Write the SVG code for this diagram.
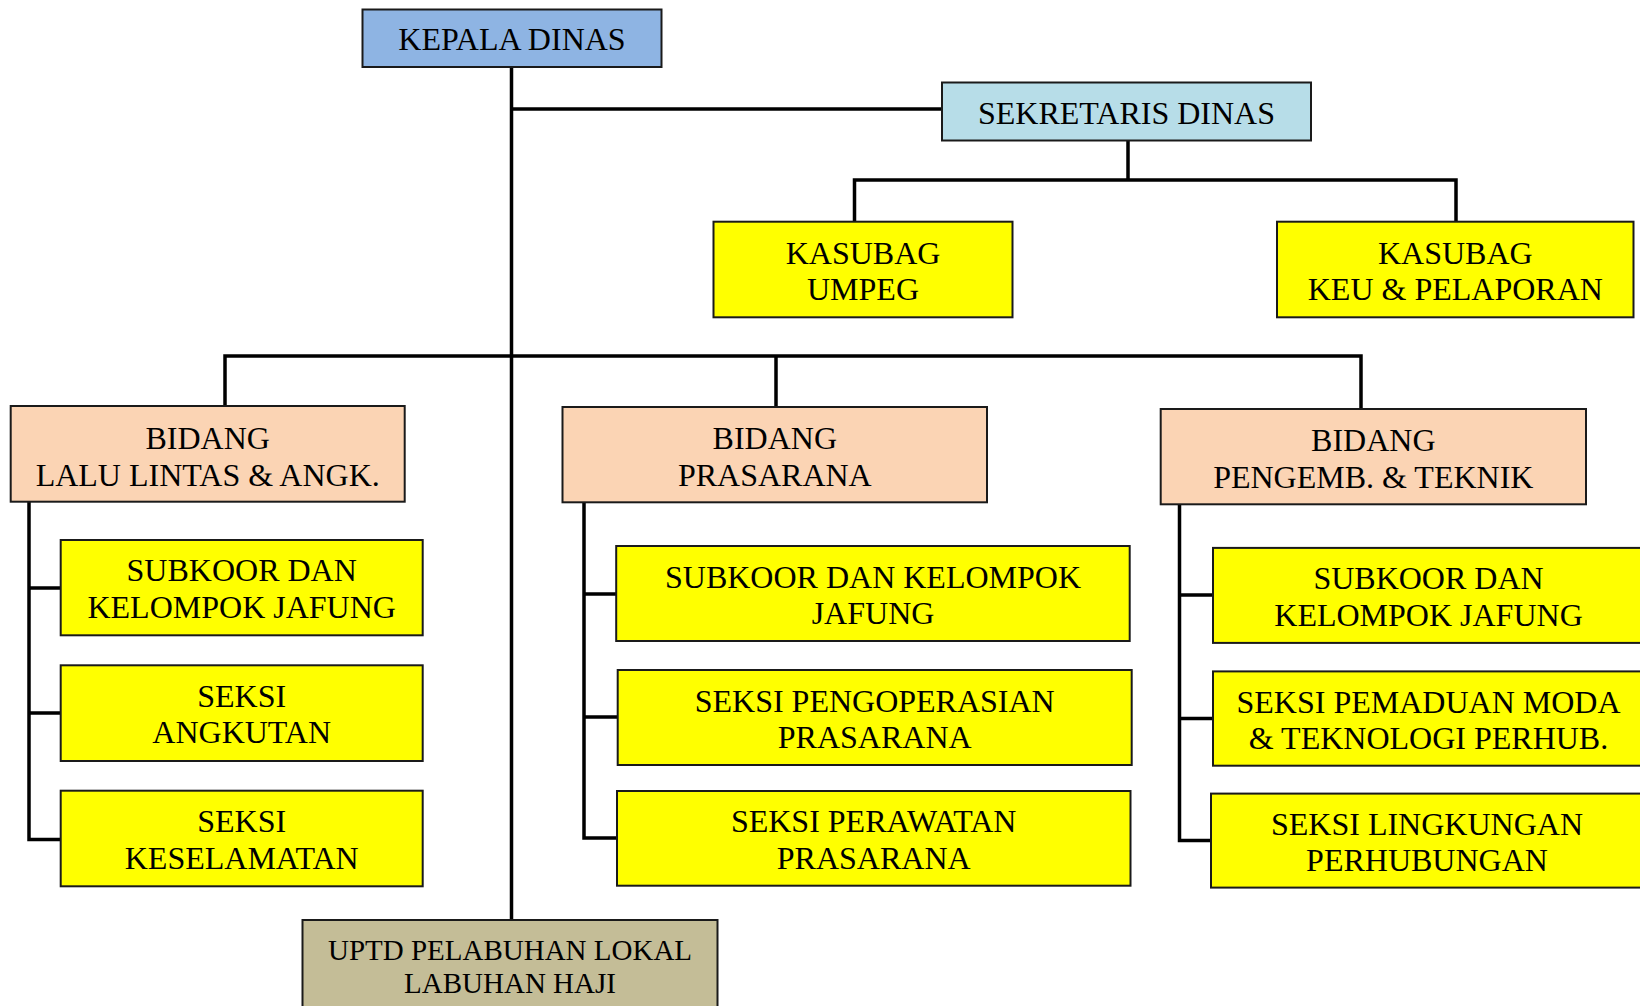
<svg xmlns="http://www.w3.org/2000/svg" width="1640" height="1006" viewBox="0 0 1640 1006">
<style>
  .box{stroke:#1a1a1a;stroke-width:2}
  .blue{fill:#8EB4E3}
  .lblue{fill:#B7DDE8}
  .yel{fill:#FFFF00}
  .peach{fill:#FBD4B4}
  .tan{fill:#C4BD97}
  text{font-family:"Liberation Serif","Times New Roman",serif;font-size:32px;fill:#000;text-anchor:middle}
  .sm{font-size:29px}
  .conn{fill:none;stroke:#000;stroke-width:3.5;stroke-linejoin:miter}
</style>
<rect width="1640" height="1006" fill="#fff"/>
<g id="connectors">
  <path class="conn" d="M511.5 67 V920"/>
  <path class="conn" d="M511.5 109 H942"/>
  <path class="conn" d="M1128 141 V180 M854.5 221.7 V180 H1456 V221.7"/>
  <path class="conn" d="M225 406 V356 H1361 V409 M776 356 V407"/>
  <path class="conn" d="M29 502 V839.5 H60.7 M29 588 H60.7 M29 713 H60.7"/>
  <path class="conn" d="M584 502.5 V838 H617 M584 594 H616.2 M584 717 H617.7"/>
  <path class="conn" d="M1179.5 504.5 V840.5 H1211 M1179.5 595 H1213 M1179.5 718.6 H1213"/>
</g>
<g id="kepala">
  <rect class="box blue" x="362.5" y="9.5" width="299" height="57.5"/>
  <text x="512" y="50">KEPALA DINAS</text>
</g>
<g id="sekretaris">
  <rect class="box lblue" x="942" y="82.5" width="369" height="58"/>
  <text x="1126.5" y="123.5">SEKRETARIS DINAS</text>
</g>
<g id="umpeg">
  <rect class="box yel" x="713.5" y="221.7" width="299" height="95.6"/>
  <text x="863" y="263.5">KASUBAG</text>
  <text x="863" y="300">UMPEG</text>
</g>
<g id="keu">
  <rect class="box yel" x="1277" y="221.7" width="356.5" height="95.6"/>
  <text x="1455.3" y="263.5">KASUBAG</text>
  <text x="1455.3" y="300">KEU &amp; PELAPORAN</text>
</g>
<g id="bidang-lalin">
  <rect class="box peach" x="10.7" y="406" width="394" height="95.7"/>
  <text x="207.7" y="448.5">BIDANG</text>
  <text x="207.7" y="485.5">LALU LINTAS &amp; ANGK.</text>
</g>
<g id="bidang-prasarana">
  <rect class="box peach" x="562.5" y="407" width="424.5" height="95.3"/>
  <text x="774.8" y="449">BIDANG</text>
  <text x="774.8" y="485.8">PRASARANA</text>
</g>
<g id="bidang-teknik">
  <rect class="box peach" x="1160.7" y="409" width="425.3" height="95.3"/>
  <text x="1373.3" y="450.5">BIDANG</text>
  <text x="1373.3" y="487.5">PENGEMB. &amp; TEKNIK</text>
</g>
<g id="lalin-subkoor">
  <rect class="box yel" x="60.7" y="540" width="362" height="95.3"/>
  <text x="241.7" y="581">SUBKOOR DAN</text>
  <text x="241.7" y="617.8">KELOMPOK JAFUNG</text>
</g>
<g id="lalin-angkutan">
  <rect class="box yel" x="60.7" y="665.3" width="362" height="95.7"/>
  <text x="241.7" y="706.5">SEKSI</text>
  <text x="241.7" y="743.2">ANGKUTAN</text>
</g>
<g id="lalin-keselamatan">
  <rect class="box yel" x="60.7" y="790.7" width="362" height="95.6"/>
  <text x="241.7" y="832">SEKSI</text>
  <text x="241.7" y="868.7">KESELAMATAN</text>
</g>
<g id="pras-subkoor">
  <rect class="box yel" x="616.2" y="546" width="513.5" height="95"/>
  <text x="873" y="587.5">SUBKOOR DAN KELOMPOK</text>
  <text x="873" y="624">JAFUNG</text>
</g>
<g id="pras-pengoperasian">
  <rect class="box yel" x="617.7" y="670" width="514" height="95"/>
  <text x="874.7" y="711.5">SEKSI PENGOPERASIAN</text>
  <text x="874.7" y="748">PRASARANA</text>
</g>
<g id="pras-perawatan">
  <rect class="box yel" x="617" y="791" width="513.5" height="94.7"/>
  <text x="873.7" y="832.3">SEKSI PERAWATAN</text>
  <text x="873.7" y="868.8">PRASARANA</text>
</g>
<g id="tek-subkoor">
  <rect class="box yel" x="1213" y="547.9" width="431" height="95"/>
  <text x="1428.5" y="589.3">SUBKOOR DAN</text>
  <text x="1428.5" y="625.9">KELOMPOK JAFUNG</text>
</g>
<g id="tek-pemaduan">
  <rect class="box yel" x="1213" y="671.4" width="431" height="94.3"/>
  <text x="1428.5" y="712.5">SEKSI PEMADUAN MODA</text>
  <text x="1428.5" y="749">&amp; TEKNOLOGI PERHUB.</text>
</g>
<g id="tek-lingkungan">
  <rect class="box yel" x="1211" y="793.6" width="433" height="94"/>
  <text x="1427" y="834.5">SEKSI LINGKUNGAN</text>
  <text x="1427" y="871">PERHUBUNGAN</text>
</g>
<g id="uptd">
  <rect class="box tan" x="302.5" y="920" width="415" height="95"/>
  <text class="sm" x="510" y="960">UPTD PELABUHAN LOKAL</text>
  <text class="sm" x="510" y="993">LABUHAN HAJI</text>
</g>
</svg>
